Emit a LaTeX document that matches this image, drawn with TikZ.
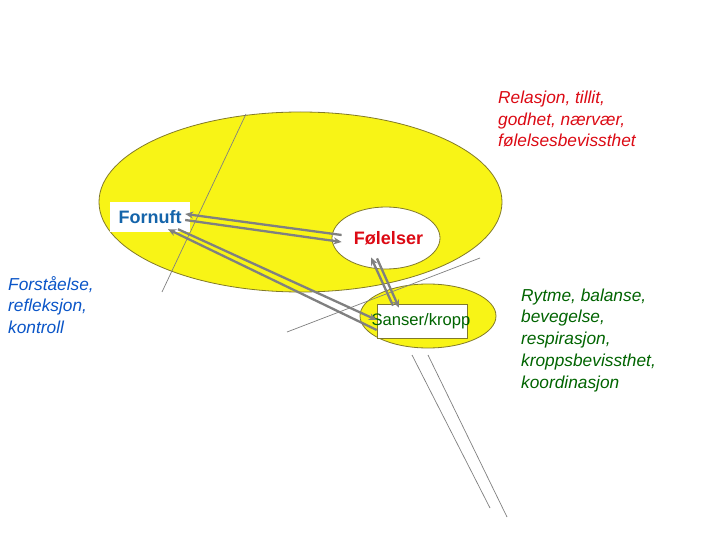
\documentclass[tikz,border=0pt]{standalone}
\usepackage{fontspec}
\setmainfont{Liberation Sans}
\usetikzlibrary{arrows.meta,shapes.geometric}
\definecolor{gul}{RGB}{248,244,22}
\definecolor{oliven}{RGB}{130,122,40}
\definecolor{graa}{RGB}{128,128,128}
\definecolor{blaa}{RGB}{20,100,170}
\definecolor{lyseblaa}{RGB}{10,85,200}
\definecolor{roed}{RGB}{220,10,20}
\definecolor{groenn}{RGB}{0,100,0}
\tikzset{
  pil/.style={graa, line width=2.3pt, -{Stealth[length=8pt,width=7pt]}},
  tynn/.style={graa, line width=0.7pt},
  ring/.style={ellipse, draw=oliven, line width=0.8pt, inner sep=0pt},
  kursiv/.style={font={\fontsize{17.3}{21.75}\selectfont\itshape}, align=left, anchor=north west, inner sep=0pt},
}
\begin{document}
\begin{tikzpicture}[x=1pt,y=-1pt]
\useasboundingbox[fill=white] (0,0) rectangle (720,540);
%% ellipser
\node[ring, fill=gul, minimum width=403pt, minimum height=180pt] (stor) at (300.5,202) {};
\node[ring, fill=gul, minimum width=136pt, minimum height=64pt] (kroppring) at (428,316) {};
\draw[tynn] (246,114) -- (162,292);
\draw[tynn] (287,332) -- (480,258);
\draw[tynn] (412,355) -- (490,508);
\draw[tynn] (428,355) -- (507,517);
\node[ring, fill=white, minimum width=108pt, minimum height=62pt] (folelsering) at (386,238) {};
\node[font={\fontsize{18}{20}\selectfont\bfseries}, text=roed] (folelser) at (388.5,238.5) {Følelser};
\node[fill=white, minimum width=80pt, minimum height=30pt, inner sep=0pt,
  font={\fontsize{18}{20}\selectfont\bfseries}, text=blaa] (fornuft) at (150,217) {Fornuft};
\node[draw=oliven, fill=white, line width=0.6pt, minimum width=90pt, minimum height=34pt, inner sep=0pt] (sanserboks) at (422,321) {};
\node[font={\fontsize{16.6}{18}\selectfont}, text=groenn, anchor=base, inner sep=0pt] (sanser) at (421,325.5) {Sanser/kropp};
%% piler
\draw[pil] ([xshift=10pt,yshift=3pt]folelsering.west) -- ([xshift=-5pt,yshift=3pt]fornuft.east);
\draw[pil] ([xshift=-5pt,yshift=-3pt]fornuft.east) -- ([xshift=10pt,yshift=-4pt]folelsering.west);
\draw[pil] ([yshift=-9pt]sanserboks.west) -- ([xshift=18pt,yshift=3pt]fornuft.south);
\draw[pil] ([xshift=28pt,yshift=3pt]fornuft.south) -- ([yshift=1pt]sanserboks.west);
\draw[pil] ([xshift=-29pt,yshift=-2pt]sanserboks.north) -- ([xshift=-15pt,yshift=12pt]folelsering.south);
\draw[pil] ([xshift=-9pt,yshift=11pt]folelsering.south) -- ([xshift=-23pt,yshift=-4pt]sanserboks.north);
%% tekster
\node[kursiv, text=roed] (relasjon) at (498,90.6) {Relasjon, tillit,\\godhet, nærvær,\\følelsesbevissthet};
\node[kursiv, text=lyseblaa] (forstaelse) at (8,276) {Forståelse,\\refleksjon,\\kontroll};
\node[kursiv, text=groenn] (rytme) at (521,288.5) {Rytme, balanse,\\bevegelse,\\respirasjon,\\kroppsbevissthet,\\koordinasjon};
\end{tikzpicture}
\end{document}
